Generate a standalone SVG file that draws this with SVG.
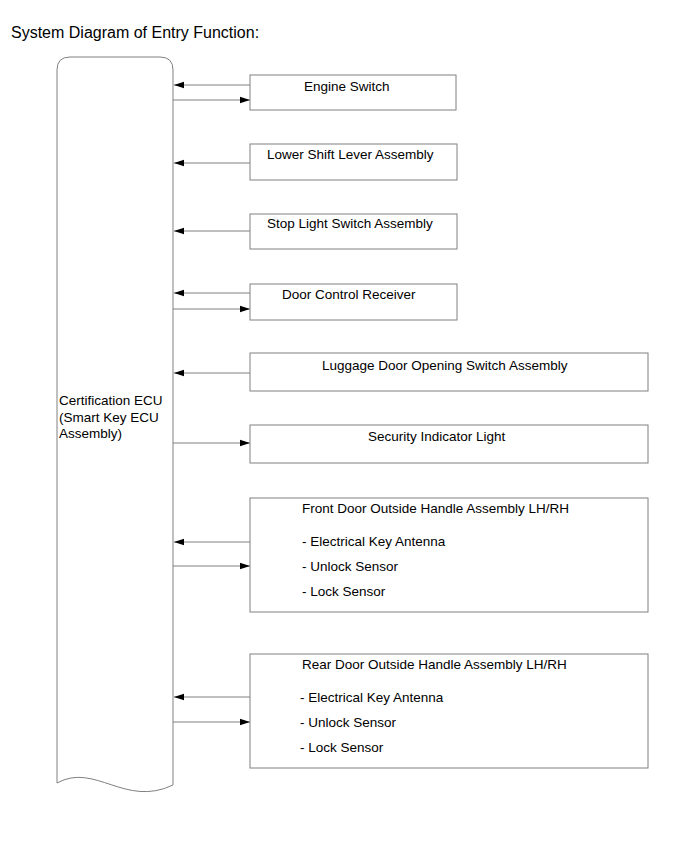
<svg xmlns="http://www.w3.org/2000/svg" width="691" height="855" viewBox="0 0 691 855">
<style>
text{font-family:"Liberation Sans",Arial,sans-serif;font-size:13.5px;fill:#000}
.title{font-size:16px}
.box{fill:#fff;stroke:#808080;stroke-width:1}
.ecu{fill:#fff;stroke:#808080;stroke-width:1}
.conn{stroke:#808080;stroke-width:1;fill:none;marker-end:url(#ah)}
</style>
<defs>
<marker id="ah" markerUnits="userSpaceOnUse" markerWidth="10" markerHeight="8" refX="10" refY="4" orient="auto">
<path d="M0,0.8 L10,4 L0,7.2 Z" fill="#000"/>
</marker>
</defs>
<rect width="691" height="855" fill="#fff"/>
<text class="title" x="11" y="38">System Diagram of Entry Function:</text>

<g id="ecu">
<path class="ecu" d="M57,783 L57,70 Q57,57 70,57 L160,57 Q173,57 173,70 L173,785 C125,808 95,762 57,783 Z"/>
<text x="59" y="405">Certification ECU</text>
<text x="59" y="422">(Smart Key ECU</text>
<text x="59" y="438">Assembly)</text>
</g>

<g id="connectors">
<line class="conn" x1="250" y1="85" x2="174" y2="85"/>
<line class="conn" x1="173" y1="100" x2="250" y2="100"/>
<line class="conn" x1="250" y1="163" x2="174" y2="163"/>
<line class="conn" x1="250" y1="231" x2="174" y2="231"/>
<line class="conn" x1="250" y1="293" x2="174" y2="293"/>
<line class="conn" x1="173" y1="309" x2="250" y2="309"/>
<line class="conn" x1="250" y1="373" x2="174" y2="373"/>
<line class="conn" x1="173" y1="443" x2="250" y2="443"/>
<line class="conn" x1="250" y1="542" x2="174" y2="542"/>
<line class="conn" x1="173" y1="566" x2="250" y2="566"/>
<line class="conn" x1="250" y1="697" x2="174" y2="697"/>
<line class="conn" x1="173" y1="722" x2="250" y2="722"/>
</g>

<g id="engine-switch">
<rect class="box" x="250" y="75" width="206" height="35"/>
<text x="304" y="91">Engine Switch</text>
</g>
<g id="lower-shift-lever">
<rect class="box" x="250" y="144" width="207" height="36"/>
<text x="267" y="159">Lower Shift Lever Assembly</text>
</g>
<g id="stop-light-switch">
<rect class="box" x="250" y="214" width="207" height="35"/>
<text x="267" y="228">Stop Light Switch Assembly</text>
</g>
<g id="door-control-receiver">
<rect class="box" x="250" y="284" width="207" height="36"/>
<text x="282" y="299">Door Control Receiver</text>
</g>
<g id="luggage-door-switch">
<rect class="box" x="250" y="353" width="398" height="38"/>
<text x="322" y="370">Luggage Door Opening Switch Assembly</text>
</g>
<g id="security-indicator">
<rect class="box" x="250" y="425" width="398" height="38"/>
<text x="368" y="441">Security Indicator Light</text>
</g>
<g id="front-door-handle">
<rect class="box" x="250" y="498" width="398" height="114"/>
<text x="302" y="513">Front Door Outside Handle Assembly LH/RH</text>
<text x="302" y="546">- Electrical Key Antenna</text>
<text x="302" y="571">- Unlock Sensor</text>
<text x="302" y="596">- Lock Sensor</text>
</g>
<g id="rear-door-handle">
<rect class="box" x="250" y="654" width="398" height="114"/>
<text x="302" y="669">Rear Door Outside Handle Assembly LH/RH</text>
<text x="300" y="702">- Electrical Key Antenna</text>
<text x="300" y="727">- Unlock Sensor</text>
<text x="300" y="752">- Lock Sensor</text>
</g>
</svg>
